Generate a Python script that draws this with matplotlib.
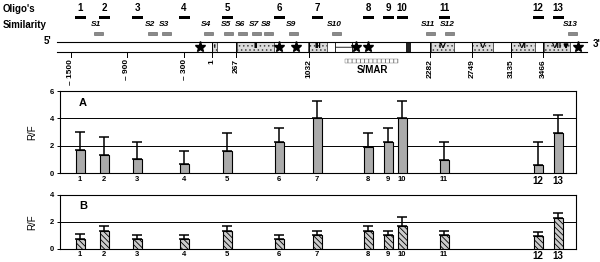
import matplotlib
matplotlib.use("Agg")
import matplotlib.pyplot as plt
from matplotlib.patches import Rectangle

plt.rcParams['font.family'] = ['Liberation Sans', 'DejaVu Sans']
plt.rcParams['font.weight'] = 'bold'
plt.rcParams['hatch.linewidth'] = 0.6

# data
oligos = ['1', '2', '3', '4', '5', '6', '7', '8', '9', '10', '11', '12', '13']
rf_a = [1.70, 1.33, 1.02, 0.68, 1.65, 2.30, 4.0, 1.95, 2.30, 4.0, 0.97, 0.62, 2.92]
err_a = [1.28, 1.29, 1.28, 0.97, 1.31, 1.0, 1.27, 1.01, 0.98, 1.27, 1.31, 1.64, 1.33]
rf_b = [0.70, 1.34, 0.70, 0.70, 1.34, 0.70, 1.02, 1.34, 1.02, 1.69, 1.02, 0.97, 2.26]
err_b = [0.37, 0.37, 0.32, 0.32, 0.36, 0.32, 0.32, 0.37, 0.32, 0.65, 0.32, 0.30, 0.38]
sims = ['S1', 'S2', 'S3', 'S4', 'S5', 'S6', 'S7', 'S8', 'S9', 'S10', 'S11', 'S12', 'S13']
map_ticks = ['– 1500', '– 900', '– 300', '1', '267', '1032', '2282', '2749', '3135', '3466']
exons = ['I', 'II', 'III', 'IV', 'V', 'VI', 'VII']

# layout (pixel positions along the drawing)
oligo_x = [80, 104, 137, 184, 227, 279, 317, 368, 388, 402, 444, 538, 558]
sim_x = [98, 152, 166, 208, 228, 242, 256, 268, 293, 336, 430, 449, 572]
tick_x = [71, 127, 184, 212, 236, 309, 430, 472, 511, 543]
exon_span = [(212, 217), (237, 274), (308, 327), (431, 454), (472, 493), (511, 535), (544, 570)]
star_x = [200, 279, 296, 356, 368, 578]

fig = plt.figure(figsize=(6.0, 2.62), dpi=100)
m = fig.add_axes([0, 0, 1, 1])
m.set_xlim(0, 600)
m.set_ylim(262, 0)
m.axis('off')

m.text(3, 9, "Oligo's", fontsize=7, ha='left', va='center')
m.text(3, 25, "Similarity", fontsize=7, ha='left', va='center')
for lab, x in zip(oligos, oligo_x):
    m.text(x, 8, lab, fontsize=7, ha='center', va='center')
    m.add_patch(Rectangle((x - 5.5, 15.5), 11, 3.5, color='black', lw=0))
for lab, x in zip(sims, sim_x):
    m.text(x - 2, 24.5, lab, fontsize=6, style='italic', ha='center', va='center')
    m.add_patch(Rectangle((x - 4.5, 32), 9, 3, facecolor='#8a8a8a', edgecolor='#555555', lw=0.4))

# gene map
y_top, y_bot = 42, 52
m.plot([57, 587], [y_top, y_top], color='black', lw=0.8)
m.plot([57, 587], [y_bot, y_bot], color='black', lw=0.8)
m.text(51, 41, "5'", fontsize=7, ha='right', va='center')
m.text(593, 44, "3'", fontsize=7, ha='left', va='center')
for lab, (a, b) in zip(exons, exon_span):
    m.add_patch(Rectangle((a, y_top), b - a, y_bot - y_top, facecolor='#dcdcdc',
                          edgecolor='#444444', lw=0.6, hatch='....'))
    m.text((a + b) / 2, 47, lab, fontsize=6 if lab != 'I' else 4.5, ha='center', va='center')
m.add_patch(Rectangle((335, y_top), 17, y_bot - y_top, facecolor='white',
                      edgecolor='black', lw=0.6, hatch='---'))
m.add_patch(Rectangle((406, y_top), 5, y_bot - y_top, color='#222222', lw=0))
m.plot(star_x, [47] * len(star_x), ls='none', marker='*', ms=8, color='black')
m.annotate('', xy=(566, 52), xytext=(566, 42),
           arrowprops=dict(arrowstyle='-|>', color='black', lw=1.2, mutation_scale=6))
for i, (lab, x) in enumerate(zip(map_ticks, tick_x)):
    y0 = y_bot if i < 3 else y_top
    m.plot([x, x], [y0, 57], color='black', lw=0.7)
    m.text(x, 59, lab, fontsize=6, rotation=90, ha='center', va='top')
m.add_patch(Rectangle((345, 59), 53, 4, facecolor='white', edgecolor='#666666',
                      lw=0.3, hatch='||||'))
m.text(372, 70, 'S/MAR', fontsize=7, ha='center', va='center')


def panel(ax, vals, errs, top, face, hatch, letter, letter_y):
    ax.bar(oligo_x, vals, width=9, color=face, edgecolor='black', lw=0.8,
           hatch=hatch, zorder=3)
    ax.errorbar(oligo_x, vals, yerr=[[0] * len(errs), errs], fmt='none',
                ecolor='black', elinewidth=1.1, capsize=3.5, capthick=1.1, zorder=2)
    ax.set_xlim(60, 576)
    ax.set_ylim(0, top)
    ax.set_yticks(range(0, top + 1, 2))
    for g in range(2, top, 2):
        ax.axhline(g, color='black', lw=0.7, zorder=1)
    ax.set_xticks(oligo_x)
    ax.set_xticklabels(oligos)
    for t in ax.get_xticklabels():
        t.set_fontsize(7 if t.get_text() in ('12', '13') else 5.5)
    ax.tick_params(axis='x', length=0, pad=2)
    ax.tick_params(axis='y', length=2.5, width=0.7, pad=1.5, labelsize=5.5)
    for s in ax.spines.values():
        s.set_linewidth(0.8)
    ax.set_ylabel('R/F', fontsize=7)
    ax.yaxis.set_label_coords(-0.045, 0.5)
    ax.text(83, letter_y, letter, fontsize=8, ha='center', va='center')


ax_a = fig.add_axes([0.1, 0.3385, 0.86, 0.314])
panel(ax_a, rf_a, err_a, 6, '#ababab', None, 'A', 5.1)
ax_b = fig.add_axes([0.1, 0.0508, 0.86, 0.205])
panel(ax_b, rf_b, err_b, 4, '#cccccc', '\\\\\\\\\\\\', 'B', 3.2)

fig.savefig('out.png', dpi=100)
